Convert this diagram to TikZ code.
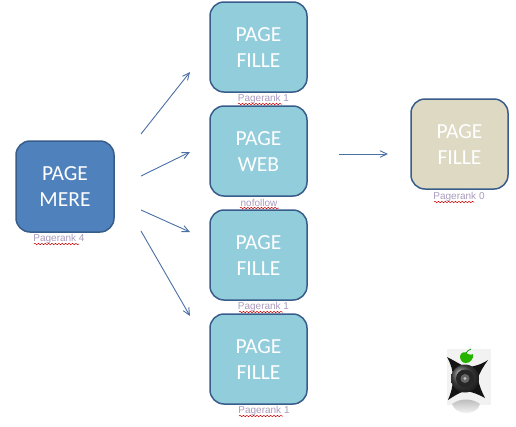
\documentclass[tikz,border=0pt]{standalone}
\usepackage{fontspec}
\setmainfont{Carlito}
\newfontfamily\labelfont{Liberation Sans}
\usetikzlibrary{arrows.meta,decorations.pathmorphing,shadings}
\definecolor{edgeblue}{RGB}{56,93,138}
\definecolor{mereblue}{RGB}{79,129,189}
\definecolor{pageblue}{RGB}{146,205,220}
\definecolor{beige}{RGB}{221,217,195}
\definecolor{arrowblue}{RGB}{74,112,165}
\definecolor{labelgray}{RGB}{170,155,190}
\newcommand\lowline[1]{\raisebox{-2pt}[14pt][3pt]{#1}}
\tikzset{
  pagebox/.style={draw=edgeblue,line width=1.5pt,rounded corners=14pt,minimum width=97pt,minimum height=90pt,
    text=white,align=center,font=\fontsize{21.5}{26}\selectfont,inner sep=0pt},
  link/.style={draw=arrowblue,line width=0.9pt,-{Straight Barb[length=7pt,width=8pt,angle'=50]}},
  ranklabel/.style={text=labelgray,font=\labelfont\fontsize{10}{11}\selectfont,inner sep=0pt},
  squiggle/.style={draw=red!80!black,line width=0.5pt,decorate,decoration={snake,amplitude=0.7pt,segment length=3.4pt}}
}
\begin{document}
\begin{tikzpicture}[x=1pt,y=-1pt]
\useasboundingbox (0,0) rectangle (516,426);
\fill[white] (0,0) rectangle (516,426);
% boxes
\node[pagebox,fill=mereblue,minimum width=98pt,minimum height=91pt] (mere) at (65,186.5) {PAGE\\MERE};
\node[pagebox,fill=pageblue] (f1) at (258.5,47) {\lowline{PAGE}\\\lowline{FILLE}};
\node[pagebox,fill=pageblue] (web) at (258.5,151) {\lowline{PAGE}\\\lowline{WEB}};
\node[pagebox,fill=pageblue] (f3) at (258.5,255) {\lowline{PAGE}\\\lowline{FILLE}};
\node[pagebox,fill=pageblue] (f4) at (258.5,359) {\lowline{PAGE}\\\lowline{FILLE}};
\node[pagebox,fill=beige] (right) at (459.5,144) {\lowline{PAGE}\\\lowline{FILLE}};
% labels
\node[ranklabel] (l0) at (59,239) {Pagerank 4};
\node[ranklabel] (l1) at (263.5,99) {Pagerank 1};
\node[ranklabel] (l2) at (259,203) {nofollow};
\node[ranklabel] (l3) at (263.5,307) {Pagerank 1};
\node[ranklabel] (l4) at (264,411) {Pagerank 1};
\node[ranklabel] (l5) at (459,197) {Pagerank 0};
% spell-check underlines
\draw[squiggle] (34,244) -- (79,244);
\draw[squiggle] (238,104) -- (282,104);
\draw[squiggle] (240,208) -- (279,208);
\draw[squiggle] (239,312) -- (283,312);
\draw[squiggle] (239,416) -- (283,416);
\draw[squiggle] (434,202) -- (474,202);
% arrows
\coordinate (s1) at (141,134); \coordinate (e1) at (190,72);
\coordinate (s2) at (141,176); \coordinate (e2) at (190,152);
\coordinate (s3) at (141,210); \coordinate (e3) at (190,232);
\coordinate (s4) at (141,231); \coordinate (e4) at (190,316);
\coordinate (s5) at (339,154); \coordinate (e5) at (388,154);
\draw[link] (s1) -- (e1);
\draw[link] (s2) -- (e2);
\draw[link] (s3) -- (e3);
\draw[link] (s4) -- (e4);
\draw[link] (s5) -- (e5);
% speaker icon
\fill[black!5] (447,349) rectangle (491,405);
\shade[top color=black!28,bottom color=white] (452,404) .. controls (460,398) and (472,398) .. (480,404) .. controls (477,416) and (456,416) .. (452,404) -- cycle;
\fill[black!92] (447,357) .. controls (455,361) and (461,365) .. (466,367)
  .. controls (474,367) and (482,364) .. (488,360)
  .. controls (483,367) and (480,372) .. (478,378)
  .. controls (479,386) and (482,392) .. (485,398)
  .. controls (478,394) and (472,392) .. (466,391)
  .. controls (460,392) and (454,396) .. (448,400)
  .. controls (451,393) and (453,386) .. (453,378)
  .. controls (453,371) and (451,364) .. (447,357) -- cycle;
\shade[ball color=black!70] (465,378.5) circle (14);
\fill[black!85] (465,378.5) circle (9);
\fill[black!60] (465,378.5) circle (4.5);
\fill[black!25] (465,378.5) circle (1.6);
\fill[green!65!black!85!yellow] (460,356) .. controls (461,352) and (465,351) .. (468,354)
  .. controls (470,355) and (472,355) .. (473,354)
  .. controls (474,359) and (470,363) .. (466,363)
  .. controls (462,363) and (460,360) .. (460,356) -- cycle;
\draw[green!60!black,line width=0.8pt] (466,353) .. controls (467,351) and (469,350) .. (471,349);
\end{tikzpicture}
\end{document}
